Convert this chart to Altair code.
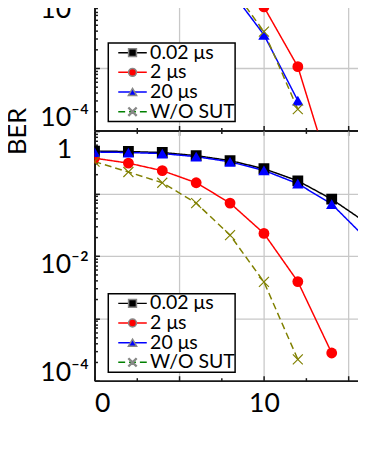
import json
import altair as alt
import pandas as pd

# ---------------- data ----------------
SERIES = ["0.02 μs", "2 μs", "20 μs", "W/O SUT"]
LINE_COLORS = ["#000000", "#ff0000", "#0000ff", "#808000"]
LEGEND_COLORS = ["#000000", "#ff0000", "#0000ff", "#008000"]
DASHES = [[1, 0], [1, 0], [1, 0], [7, 4]]
TRIANGLE = "M0,-0.9L1.05,0.9L-1.05,0.9Z"
CROSS_X = ("M-1,-0.85L-0.85,-1L0,-0.15L0.85,-1L1,-0.85L0.15,0L1,0.85"
           "L0.85,1L0,0.15L-0.85,1L-1,0.85L-0.15,0Z")
SHAPES = ["square", "circle", TRIANGLE, CROSS_X]
LEGEND_LINE = "M-3.625,0L3.625,0"

# upper panel (only its lower part is visible)
TOP_X_002 = [8]
TOP_BER_002 = [0.019]
TOP_X_2 = [8, 10, 12, 14]
TOP_BER_2 = [0.06, 0.0095, 0.00105, 0.000018]
TOP_X_20 = [8, 10, 12]
TOP_BER_20 = [0.018, 0.0034, 0.0003]
TOP_X_WO = [0, 2, 4, 6, 8, 10, 12]
TOP_BER_WO = [0.323, 0.220, 0.148, 0.0699, 0.0214, 0.00382, 0.000219]

# lower panel
BOT_X_002 = [0, 2, 4, 6, 8, 10, 12, 14, 16]
BOT_BER_002 = [0.476, 0.468, 0.451, 0.402, 0.335, 0.248, 0.159, 0.0807, 0.0344]
BOT_X_2 = [0, 2, 4, 6, 8, 10, 12, 14]
BOT_BER_2 = [0.366, 0.305, 0.231, 0.148, 0.0699, 0.0228, 0.00386, 0.000277]
BOT_X_20 = [0, 2, 4, 6, 8, 10, 12, 14, 16]
BOT_BER_20 = [0.459, 0.451, 0.434, 0.387, 0.320, 0.233, 0.143, 0.0674, 0.0193]
BOT_X_WO = [0, 2, 4, 6, 8, 10, 12]
BOT_BER_WO = [0.323, 0.220, 0.148, 0.0699, 0.0214, 0.00382, 0.000219]

# axes
X_TICKS = [0, 2.5, 5, 7.5, 10, 12.5, 15]
X_LABELED = [0, 10]
X_GRID = [5, 10, 15]
DECADES = [0.0001, 0.001, 0.01, 0.1, 1]
Y_GRID = [0.001, 0.01, 0.1]
MINOR_Y = [round(m * d, 8) for d in DECADES[:-1] for m in range(2, 10)]
Y_TICKS = sorted(DECADES + MINOR_Y)
TOP_LABELS = {0.01: "10⁻²", 0.0001: "10⁻⁴"}
TOP_LABEL_SHIFT = {0.01: 4, 0.0001: -13}
BOT_LABELS = {1: "1", 0.01: "10⁻²", 0.0001: "10⁻⁴"}
BOT_LABEL_SHIFT = {1: 19.5, 0.01: 9, 0.0001: -8}

# ---------------- layout ----------------
W = 269
XMAX = 15.61
TOP_H = 130.5
TOP_YMAX = 0.01135
BOT_H = 254
FONT = "Lato"

LEGEND_COLOR_EXPR = " : ".join(
    "datum.value === '%s' ? '%s'" % (s, c) for s, c in zip(SERIES[:-1], LEGEND_COLORS[:-1])
) + " : '%s'" % LEGEND_COLORS[-1]


def in_list(values):
    return "indexof(" + json.dumps(values) + ", datum.value) >= 0"


def cond(test, a, b):
    return {"condition": {"test": test, "value": a}, "value": b}


def table(xs_list, ys_list):
    rows = []
    for name, xs, ys in zip(SERIES, xs_list, ys_list):
        for x, y in zip(xs, ys):
            rows.append({"x": x, "ber": y, "series": name, "curve": name, "marker": name})
    return pd.DataFrame(rows)


def panel(df, height, ymax, labels, shifts, legend_y, ticks_out, show_x_labels, y_title):
    x_scale = alt.Scale(domain=[0, XMAX], nice=False, zero=False)
    y_scale = alt.Scale(type="log", domain=[0.0001, ymax], nice=False)

    label_expr = " : ".join(
        "datum.value === %r ? '%s'" % (v, t) for v, t in labels.items()) + " : ''"
    offset_cond = {"condition": [
        {"test": "datum.value === %r" % v, "value": s} for v, s in shifts.items()],
        "value": 0}

    x_main = alt.Axis(
        orient="bottom", values=X_TICKS, title=None, domain=True, grid=True,
        gridOpacity=cond(in_list(X_GRID), 1, 0),
        ticks=ticks_out, tickSize=cond("datum.value % 5 === 0", 5, 3) if ticks_out else 0,
        labels=show_x_labels,
        labelExpr="%s ? datum.label : ''" % in_list(X_LABELED),
        labelFlush=True, labelPadding=10.5, labelOverlap=False)
    y_kw = dict(
        orient="left", values=Y_TICKS, domain=True, grid=True,
        gridOpacity=cond(in_list(Y_GRID), 1, 0), ticks=False, tickSize=0,
        labelExpr=label_expr, labelOffset=offset_cond, labelAlign="center",
        labelBaseline="middle", labelPadding=31, labelFlush=False, labelOverlap=False)
    if y_title:
        y_main = alt.Axis(title=y_title, titleX=-78, titleY=0, titleAngle=270,
                          titleAlign="center", titleBaseline="middle", **y_kw)
    else:
        y_main = alt.Axis(title=None, **y_kw)

    x_tick = alt.Axis(orient="top", offset=-height, values=X_TICKS, title=None,
                      domain=False, grid=False, labels=False, ticks=True,
                      tickSize=cond("datum.value % 5 === 0", 5, 3))
    y_tick = alt.Axis(orient="right", offset=-W, values=Y_TICKS, title=None,
                      domain=False, grid=False, labels=False, ticks=True,
                      tickSize=cond(in_list(DECADES), 5, 3))

    leg = dict(orient="none", legendX=14, legendY=legend_y, title=None, padding=0,
               rowPadding=-2.2, symbolSize=64, symbolStrokeWidth=1.5, symbolOffset=14.75,
               labelOffset=8, labelFont=FONT, labelFontSize=19.8, labelColor="black")
    line_leg = alt.Legend(symbolType=LEGEND_LINE, fillColor="white", strokeColor="black",
                          symbolStrokeColor={"expr": LEGEND_COLOR_EXPR}, zindex=1, **leg)
    point_leg = alt.Legend(labelOpacity=0, symbolFillColor={"expr": LEGEND_COLOR_EXPR},
                           zindex=2, **leg)

    lines = alt.Chart(df).mark_line(strokeWidth=1.5, clip=True).encode(
        x=alt.X("x:Q", scale=x_scale, axis=x_main),
        y=alt.Y("ber:Q", scale=y_scale, axis=y_main),
        stroke=alt.Stroke("series:N", scale=alt.Scale(range=LINE_COLORS), legend=None),
        strokeDash=alt.StrokeDash("curve:N", scale=alt.Scale(range=DASHES), legend=line_leg),
    )
    points = alt.Chart(df).mark_point(filled=True, size=121, strokeWidth=0, opacity=1,
                                      clip=True).encode(
        x=alt.X("x:Q", scale=x_scale, axis=x_tick),
        y=alt.Y("ber:Q", scale=y_scale, axis=y_tick),
        fill=alt.Fill("series:N", scale=alt.Scale(range=LINE_COLORS), legend=None),
        shape=alt.Shape("marker:N", scale=alt.Scale(range=SHAPES), legend=point_leg),
    )
    return alt.layer(lines, points).resolve_axis(
        x="independent", y="independent").properties(width=W, height=height)


top_df = table([TOP_X_002, TOP_X_2, TOP_X_20, TOP_X_WO],
               [TOP_BER_002, TOP_BER_2, TOP_BER_20, TOP_BER_WO])
bot_df = table([BOT_X_002, BOT_X_2, BOT_X_20, BOT_X_WO],
               [BOT_BER_002, BOT_BER_2, BOT_BER_20, BOT_BER_WO])

top = panel(top_df, TOP_H, TOP_YMAX, TOP_LABELS, TOP_LABEL_SHIFT, 41.5, True, False, None)
bottom = panel(bot_df, BOT_H, 1, BOT_LABELS, BOT_LABEL_SHIFT, 165.5, False, True, "BER")

chart = alt.vconcat(top, bottom, spacing=0, bounds="flush").resolve_scale(
    stroke="independent", strokeDash="independent", fill="independent", shape="independent"
).resolve_legend(
    strokeDash="independent", shape="independent"
).configure_view(stroke=None).configure_axis(
    labelFont=FONT, labelFontSize=27, labelColor="black", labelFontWeight="normal",
    domainColor="#1a1a1a", domainWidth=2, tickColor="#1a1a1a", tickWidth=1.5,
    gridColor="#c8c8c8", gridWidth=1.3,
    titleFont=FONT, titleFontSize=26, titleFontWeight="normal", titleColor="black",
).configure_legend(strokeWidth=1.5).properties(
    padding={"left": -3, "top": -17.5, "right": -1, "bottom": 0}
)

chart.save("out.html", embed_options={"renderer": "svg", "actions": False})
